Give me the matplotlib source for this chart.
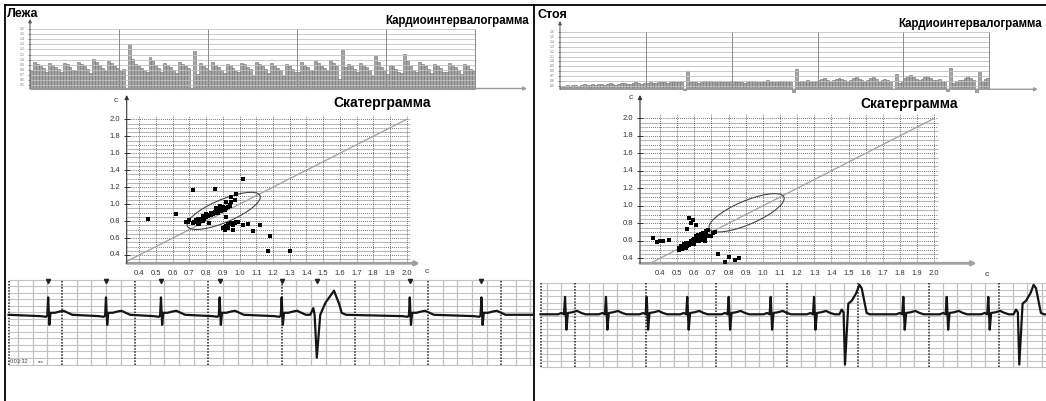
import matplotlib
matplotlib.use("Agg")
import matplotlib.pyplot as plt
import numpy as np
from matplotlib.patches import Ellipse

plt.rcParams["font.family"] = ["Liberation Sans", "DejaVu Sans"]

# ---- data ----
# RR intervals (s), one bar per beat; the scattergram uses the same series
LEFT_RR = [
    0.78, 0.95, 0.92, 0.88, 0.83, 0.77, 0.94, 0.90, 0.86, 0.81,
    0.76, 0.93, 0.91, 0.85, 0.80, 0.78, 0.96, 0.92, 0.87, 0.82,
    0.75, 1.02, 0.95, 0.89, 0.84, 0.79, 0.98, 0.94, 0.88, 0.83,
    0.78, 0.82, 0.45, 1.30, 1.02, 0.92, 0.88, 0.84, 0.79, 0.76,
    1.05, 0.97, 0.90, 0.83, 0.77, 0.94, 0.90, 0.85, 0.80, 0.75,
    0.96, 0.91, 0.87, 0.83, 0.45, 1.17, 0.72, 0.93, 0.88, 0.84,
    0.78, 0.95, 0.90, 0.86, 0.80, 0.74, 0.92, 0.89, 0.84, 0.78,
    0.76, 0.94, 0.91, 0.86, 0.81, 0.70, 0.96, 0.92, 0.87, 0.82,
    0.75, 0.93, 0.88, 0.84, 0.79, 0.69, 0.91, 0.87, 0.82, 0.77,
    0.76, 0.95, 0.90, 0.85, 0.80, 0.78, 0.97, 0.93, 0.88, 0.83,
    0.79, 0.99, 0.94, 0.88, 0.62, 1.18, 0.85, 0.92, 0.87, 0.82,
    0.76, 0.94, 0.90, 0.85, 0.79, 0.68, 1.08, 0.95, 0.86, 0.78,
    0.72, 0.90, 0.87, 0.82, 0.76, 0.75, 1.12, 0.98, 0.88, 0.80,
    0.77, 0.96, 0.92, 0.87, 0.81, 0.74, 0.92, 0.88, 0.83, 0.77,
    0.76, 0.94, 0.90, 0.85, 0.79, 0.73, 0.91, 0.87, 0.82, 0.78,
]
RIGHT_RR = [
    0.50, 0.51, 0.52, 0.51, 0.53, 0.52, 0.51, 0.53, 0.54, 0.52,
    0.53, 0.54, 0.52, 0.55, 0.54, 0.53, 0.55, 0.56, 0.54, 0.53,
    0.55, 0.57, 0.56, 0.55, 0.54, 0.56, 0.58, 0.57, 0.55, 0.56,
    0.57, 0.58, 0.57, 0.56, 0.58, 0.59, 0.58, 0.57, 0.58, 0.60,
    0.59, 0.58, 0.60, 0.42, 0.80, 0.58, 0.59, 0.58, 0.57, 0.59,
    0.60, 0.61, 0.60, 0.58, 0.59, 0.60, 0.59, 0.58, 0.59, 0.60,
    0.61, 0.60, 0.59, 0.58, 0.57, 0.59, 0.60, 0.61, 0.59, 0.58,
    0.59, 0.60, 0.62, 0.61, 0.59, 0.58, 0.60, 0.61, 0.60, 0.61,
    0.59, 0.38, 0.84, 0.59, 0.60, 0.61, 0.62, 0.60, 0.59, 0.60,
    0.62, 0.64, 0.66, 0.63, 0.61, 0.62, 0.65, 0.67, 0.64, 0.62,
    0.61, 0.63, 0.66, 0.68, 0.65, 0.62, 0.60, 0.63, 0.66, 0.69,
    0.65, 0.61, 0.63, 0.64, 0.62, 0.61, 0.45, 0.74, 0.56, 0.60,
    0.66, 0.70, 0.72, 0.68, 0.64, 0.62, 0.65, 0.69, 0.71, 0.67,
    0.62, 0.63, 0.64, 0.61, 0.60, 0.40, 0.86, 0.57, 0.60, 0.62,
    0.63, 0.66, 0.70, 0.67, 0.63, 0.36, 0.78, 0.61, 0.64, 0.66,
]

# ECG: beat times (s) and beat kind, N = normal, V = ventricular
LEFT_BEATS = [0.811, 1.601, 2.352, 3.154, 4.001, 4.481, 5.751, 6.730]
LEFT_KINDS = ["N", "N", "N", "N", "N", "V", "N", "N"]
RIGHT_BEATS = [0.859, 1.438, 2.014, 2.588, 3.174, 3.768, 4.381, 4.819,
               5.644, 6.258, 6.846, 7.284]
RIGHT_KINDS = ["N", "N", "N", "N", "N", "N", "N", "V", "N", "N", "N", "V"]

# beat shapes: time offset from the R / spike (s) and amplitude (mV)
LEFT_N_DT = [-0.10, -0.03, -0.012, 0.0, 0.016, 0.032, 0.09, 0.16, 0.21, 0.27, 0.33]
LEFT_N_MV = [-0.02, -0.03, -0.01, 0.26, -0.15, 0.03, 0.03, 0.05, 0.06, 0.03, 0.0]
LEFT_V_DT = [-0.09, -0.047, -0.03, 0.0, 0.047, 0.118, 0.235, 0.306, 0.339, 0.40]
LEFT_V_MV = [0.0, 0.10, 0.0, -0.64, 0.0, 0.18, 0.36, 0.16, 0.03, 0.0]
RIGHT_N_DT = [-0.10, -0.05, -0.015, 0.0, 0.02, 0.04, 0.10, 0.17, 0.23, 0.29]
RIGHT_N_MV = [0.0, 0.02, 0.0, 0.26, -0.23, 0.02, 0.03, 0.05, 0.02, 0.0]
RIGHT_V_DT = [-0.08, -0.047, -0.02, 0.0, 0.047, 0.094, 0.156, 0.203, 0.236, 0.274, 0.306, 0.35]
RIGHT_V_MV = [0.0, 0.07, 0.03, -0.75, 0.16, 0.20, 0.31, 0.44, 0.39, 0.19, 0.02, 0.0]

TITLES = ["Лежа", "Стоя"]

W, H = 1046, 401
fig = plt.figure(figsize=(W / 100, H / 100), dpi=100)
fig.patch.set_facecolor("white")


def px_axes(x0, y0, x1, y1):
    ax = fig.add_axes([x0 / W, 1 - y1 / H, (x1 - x0) / W, (y1 - y0) / H])
    ax.set_axis_off()
    return ax


def mapped_axes(box, xref, yref):
    # box in pixels (left, top, right, bottom); refs: (px_a, val_a, px_b, val_b)
    x0, y0, x1, y1 = box
    sx = (xref[3] - xref[1]) / (xref[2] - xref[0])
    sy = (yref[3] - yref[1]) / (yref[2] - yref[0])
    ax = px_axes(x0, y0, x1, y1)
    ax.set_xlim(xref[1] + (x0 - xref[0]) * sx, xref[1] + (x1 - xref[0]) * sx)
    ax.set_ylim(yref[1] + (y1 - yref[0]) * sy, yref[1] + (y0 - yref[0]) * sy)
    return ax


CARDIO_BASE = 0.44
CARDIO_GRID = np.round(np.arange(0.5, 1.61, 0.1), 2)


def draw_cardio(rr, x_axis, x_end, x_arrow, y_axis, y_top, y_arrow):
    rr = np.asarray(rr)
    n = len(rr)
    top = CARDIO_GRID[-1]
    ax = mapped_axes((x_axis - 14, y_arrow - 3, x_arrow + 3, y_axis + 4),
                     (x_axis, 0, x_end, n), (y_axis, CARDIO_BASE, y_top, top))
    xa = n * (x_arrow - x_axis) / (x_end - x_axis)
    ya = CARDIO_BASE + (top - CARDIO_BASE) * (y_axis - y_arrow) / (y_axis - y_top)
    ax.bar(np.arange(n) + 0.5, rr - CARDIO_BASE, bottom=CARDIO_BASE, width=1.0,
           color="#a4a4a4", edgecolor="#6e6e6e", linewidth=0.4, zorder=2)
    ax.hlines(CARDIO_GRID, 0, n, colors="#c2c2c2", linewidth=0.6, zorder=3)
    ax.vlines(np.arange(n // 5, n + 1, n // 5), CARDIO_BASE, top,
              colors="#8a8a8a", linewidth=0.7, zorder=3)
    ax.annotate("", xy=(xa, CARDIO_BASE), xytext=(0, CARDIO_BASE), annotation_clip=False,
                arrowprops=dict(arrowstyle="-|>", color="#9a9a9a", lw=1.0,
                                mutation_scale=5, shrinkA=0, shrinkB=0))
    ax.annotate("", xy=(0, ya), xytext=(0, CARDIO_BASE), annotation_clip=False,
                arrowprops=dict(arrowstyle="-|>", color="#555555", lw=0.7,
                                mutation_scale=5, shrinkA=0, shrinkB=0))
    for v in CARDIO_GRID:
        ax.annotate(f"{v:.1f}", xy=(0, v), xytext=(-4, 0), textcoords="offset points",
                    ha="right", va="center", fontsize=2.5, color="#777777")
    ax.plot(np.zeros(len(CARDIO_GRID)), CARDIO_GRID, "_", ms=3, color="#666666",
            mew=0.5, clip_on=False)


def draw_scatter(rr, x_axis, y_axis, x04, x20, y04, y20, x_arrow, y_arrow, c_off):
    rr = np.asarray(rr)
    ax = mapped_axes((x_axis - 30, y_arrow - 12, x_arrow + 14, y_axis + 16),
                     (x04, 0.4, x20, 2.0), (y04, 0.4, y20, 2.0))
    xmin = 0.4 + (x_axis - x04) * 1.6 / (x20 - x04)
    ymin = 0.4 + (y_axis - y04) * 1.6 / (y20 - y04)
    xmax = 0.4 + (x_arrow - x04) * 1.6 / (x20 - x04)
    ymax = 0.4 + (y_arrow - y04) * 1.6 / (y20 - y04)
    ticks = np.round(np.arange(0.4, 2.01, 0.1), 2)
    ax.hlines(ticks - 0.05, xmin, 2.02, colors="#b8b8b8", linewidth=0.8, zorder=1)
    ax.hlines(ticks, xmin, 2.02, colors="#444444", linewidth=0.6,
              linestyles=(0, (1, 1.5)), zorder=1)
    ax.vlines(ticks, ymin, 2.05, colors="#444444", linewidth=0.6,
              linestyles=(0, (1, 1.5)), zorder=1)
    d0 = max(xmin, ymin)
    ax.plot([d0, 2.0], [d0, 2.0], color="#a0a0a0", lw=0.9, zorder=2)
    ax.add_patch(Ellipse((0.905, 0.92), 0.58, 0.22, angle=45, fill=False,
                         edgecolor="#444444", lw=0.8, zorder=3))
    # Poincare plot: x = RR(n+1), y = RR(n)
    ax.scatter(rr[1:], rr[:-1], s=12, marker="s", c="black", linewidths=0, zorder=4)
    ax.annotate("", xy=(xmax, ymin), xytext=(xmin, ymin), annotation_clip=False,
                arrowprops=dict(arrowstyle="-|>", color="#a0a0a0", lw=2.0,
                                mutation_scale=6, shrinkA=0, shrinkB=0))
    ax.annotate("", xy=(xmin, ymax), xytext=(xmin, ymin), annotation_clip=False,
                arrowprops=dict(arrowstyle="-|>", color="#333333", lw=0.8,
                                mutation_scale=6, shrinkA=0, shrinkB=0))
    for v in ticks[::2]:
        ax.annotate(f"{v:.1f}", xy=(xmin, v), xytext=(-5, 0), textcoords="offset points",
                    ha="right", va="center", fontsize=5.5, color="#333333")
    ax.plot(np.full(len(ticks[::2]), xmin), ticks[::2], "_", ms=4, color="#333333",
            mew=0.7, clip_on=False)
    for v in ticks:
        ax.annotate(f"{v:.1f}", xy=(v, ymin), xytext=(0, -7), textcoords="offset points",
                    ha="center", va="center", fontsize=5.5, color="#333333")
    ax.annotate("с", xy=(xmin, ymax), xytext=c_off[0], textcoords="offset points",
                ha="center", va="center", fontsize=6, color="#333333")
    ax.annotate("с", xy=(xmax, ymin), xytext=c_off[1], textcoords="offset points",
                ha="center", va="center", fontsize=6, color="#333333")


def draw_ecg(beats, kinds, shapes, box, t_ref, px_per_s, baseline, markers):
    x0, y0, x1, y1 = box
    mv_px = 67.0
    ax = mapped_axes((x0 - 2, y0 - 4, x1, y1 + 2),
                     (t_ref, 1.0, t_ref + px_per_s, 2.0), (baseline, 0.0, baseline - mv_px, 1.0))
    t_lo = 1 + (x0 - t_ref) / px_per_s
    t_hi = 1 + (x1 - t_ref) / px_per_s
    v_hi = (baseline - y0) / mv_px
    v_lo = (baseline - y1) / mv_px
    minor = np.arange(np.ceil(t_lo * 5) / 5, t_hi, 0.2)
    minor = minor[np.abs(minor - np.round(minor)) > 1e-6]
    ax.vlines(minor, v_lo, v_hi, colors="#c0c0c0", linewidth=0.9, zorder=1)
    ax.hlines(np.linspace(v_lo, v_hi, 14), t_lo, t_hi, colors="#c4c4c4", linewidth=0.8, zorder=1)
    major = np.arange(np.ceil(t_lo), t_hi, 1.0)
    ax.vlines(np.append(major, t_lo), v_lo, v_hi, colors="#222222", linewidth=1.1,
              linestyles=(0, (1, 1)), zorder=2)
    t = [t_lo]
    v = [0.0]
    for bt, kind in zip(beats, kinds):
        dt, mv = shapes[kind]
        t.extend(bt + np.asarray(dt))
        v.extend(mv)
    t.append(t_hi)
    v.append(0.0)
    ax.plot(t, v, color="#151515", lw=1.6, zorder=4)
    if markers:
        ax.plot(beats, np.full(len(beats), v_hi - 0.02), "v", ms=3, color="#222222",
                clip_on=False, zorder=5)
        ax.text(t_lo + 0.02, v_lo + 0.05, "0:03:32", fontsize=4, color="#444444",
                ha="left", va="center")
        ax.text(t_lo + 0.40, v_lo + 0.04, "сек", fontsize=2.8, color="#444444",
                ha="left", va="center")


# top strips: cardiointervalograms
draw_cardio(LEFT_RR, 30, 474.5, 527, 88.5, 28.8, 19)
draw_cardio(RIGHT_RR, 560, 989.3, 1038, 89.3, 31.7, 21)

# middle: scattergrams
draw_scatter(LEFT_RR, 126.7, 263.3, 139.3, 406.7, 255.0, 119.3, 420, 95,
             [(-8, -4), (5, -6)])
draw_scatter(RIGHT_RR, 640, 263.3, 660, 934.3, 258.3, 118.3, 976.7, 95,
             [(-7, -2), (7, -8)])

# bottom: ECG strips
draw_ecg(LEFT_BEATS, LEFT_KINDS, {"N": (LEFT_N_DT, LEFT_N_MV), "V": (LEFT_V_DT, LEFT_V_MV)},
         (8.6, 279.6, 533, 364.5), 62.0, 73.2, 314.8, True)
draw_ecg(RIGHT_BEATS, RIGHT_KINDS, {"N": (RIGHT_N_DT, RIGHT_N_MV), "V": (RIGHT_V_DT, RIGHT_V_MV)},
         (540.5, 283.3, 1046, 367.3), 575.0, 70.7, 314.3, False)

# frame and headings in pixel coordinates
ov = px_axes(0, 0, W, H)
ov.set_xlim(0, W)
ov.set_ylim(H, 0)
ov.plot([5, W], [5, 5], color="black", lw=1.3)
ov.plot([5, 5], [5, H], color="black", lw=1.3)
ov.plot([534, 534], [5, H], color="black", lw=1.3)
ov.text(6.5, 16.7, TITLES[0], fontsize=9, fontweight="bold", va="baseline", ha="left")
ov.text(537, 18.3, TITLES[1], fontsize=9, fontweight="bold", va="baseline", ha="left")
ov.text(528.5, 24.0, "Кардиоинтервалограмма", fontsize=8.3, fontweight="bold",
        va="baseline", ha="right")
ov.text(1041.7, 26.7, "Кардиоинтервалограмма", fontsize=8.3, fontweight="bold",
        va="baseline", ha="right")
ov.text(333, 107.3, "Скатерграмма", fontsize=10, fontweight="bold", va="baseline", ha="left")
ov.text(860, 108.3, "Скатерграмма", fontsize=10, fontweight="bold", va="baseline", ha="left")

fig.savefig("out.png", dpi=100, facecolor="white")
